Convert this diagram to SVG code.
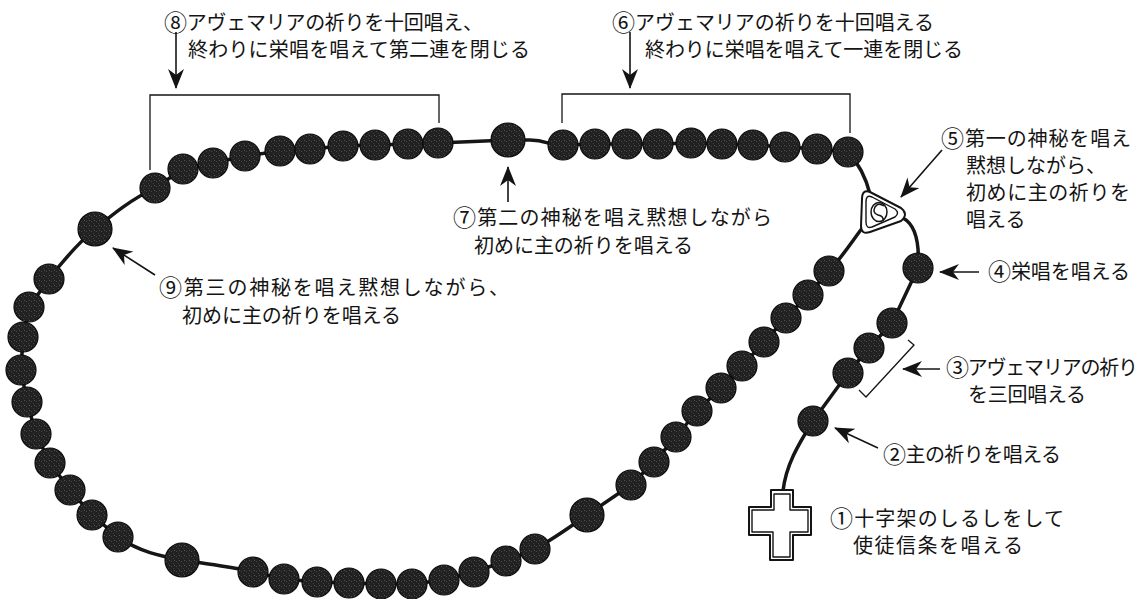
<svg xmlns="http://www.w3.org/2000/svg" width="1144" height="599" viewBox="0 0 1144 599">
<style>
text{font-family:"Noto Sans CJK JP","Noto Sans CJK SC",sans-serif;font-size:20px;fill:#141414}
.n{font-size:23px}
.cord{fill:none;stroke:#161616;stroke-width:3.5;stroke-linejoin:round;stroke-linecap:round}
.b{fill:url(#sp);stroke:#0b0b0b;stroke-width:1.2}
.arr{fill:none;stroke:#141414;stroke-width:1.6;marker-end:url(#ah)}
.brk{fill:none;stroke:#141414;stroke-width:1.3}
.ol{fill:#fff;stroke:#141414;stroke-width:2;stroke-linejoin:round}
.il{fill:none;stroke:#141414;stroke-width:1.4;stroke-linejoin:round}
</style>
<defs>
<pattern id="sp" width="5" height="5" patternUnits="userSpaceOnUse">
<rect width="5" height="5" fill="#212121"/>
<rect x="1" y="1" width="1" height="1" fill="#4a4a4a"/>
<rect x="3" y="3" width="1" height="1" fill="#3d3d3d"/>
<rect x="4" y="0" width="1" height="1" fill="#555"/>
</pattern>
<marker id="ah" viewBox="0 0 20 16" refX="19" refY="8" markerWidth="20" markerHeight="16" markerUnits="userSpaceOnUse" orient="auto">
<path d="M0,0 L20,8 L0,16 L6,8 Z" fill="#141414"/>
</marker>
</defs>
<rect width="1144" height="599" fill="#fff"/>

<g id="connectors">
<path class="cord" d="M870,194 C866,178 860,165 848,152 L817,149 L785,147 L753,145 L722,144 L691,143 L658,144 L627,144 L595,144 L563,145 C548,146 548,140 530,140 L508,140 L438,143 L408,144 L375,145 L343,146 L310,149 L280,151 L245,156 L213,163 L183,169 L155,188 C130,200 112,215 95,229 C75,246 62,262 49,279 L29,307 L23,337 L21,370 L27,402 L36,434 L50,463 L70,490 L92,515 L118,537 C140,552 160,556 182,560 C205,564 230,566 253,572 L284,579 L317,582 L349,583 L381,584 L412,584 L444,580 L474,572 L506,561 L535,549 C555,538 570,527 587,515 L631,485 L654,462 L676,437 L697,411 L721,388 L742,366 L764,342 L786,318 L808,295 L829,271 C843,256 853,240 863,227"/>
<path class="cord" d="M903,218 C914,224 920,238 918,268 L892,323 L869,348 L848,373 L813,421 C798,445 786,465 783,491"/>
<path class="arr" d="M176,32 V88"/>
<path class="arr" d="M630,32 V88"/>
<path class="arr" d="M508,202 V167"/>
<path class="arr" d="M155,275 L113,248"/>
<path class="arr" d="M942,150 L901,197"/>
<path class="arr" d="M979,272 H940"/>
<path class="arr" d="M940,369 H903"/>
<path class="arr" d="M878,448 L835,428"/>
<path class="brk" d="M150,170 V95 H439 V123"/>
<path class="brk" d="M562,123 V94 H850 V133"/>
<path class="brk" d="M908,340 L914,345 L866,397 L859,390"/>
</g>

<g id="decade1">
<circle class="b" cx="563" cy="145" r="15"/><circle class="b" cx="595" cy="144" r="15"/><circle class="b" cx="627" cy="144" r="15"/><circle class="b" cx="658" cy="144" r="15"/><circle class="b" cx="691" cy="143" r="15"/><circle class="b" cx="722" cy="144" r="15"/><circle class="b" cx="753" cy="145" r="15"/><circle class="b" cx="785" cy="147" r="15"/><circle class="b" cx="817" cy="149" r="15"/><circle class="b" cx="848" cy="152" r="15"/>
</g>
<g id="decade2">
<circle class="b" cx="155" cy="188" r="15"/><circle class="b" cx="183" cy="169" r="15"/><circle class="b" cx="213" cy="163" r="15"/><circle class="b" cx="245" cy="156" r="15"/><circle class="b" cx="280" cy="151" r="15"/><circle class="b" cx="310" cy="149" r="15"/><circle class="b" cx="343" cy="146" r="15"/><circle class="b" cx="375" cy="145" r="15"/><circle class="b" cx="408" cy="144" r="15"/><circle class="b" cx="438" cy="143" r="15"/>
</g>
<g id="decade3">
<circle class="b" cx="49" cy="279" r="15"/><circle class="b" cx="29" cy="307" r="15"/><circle class="b" cx="23" cy="337" r="15"/><circle class="b" cx="21" cy="370" r="15"/><circle class="b" cx="27" cy="402" r="15"/><circle class="b" cx="36" cy="434" r="15"/><circle class="b" cx="50" cy="463" r="15"/><circle class="b" cx="70" cy="490" r="15"/><circle class="b" cx="92" cy="515" r="15"/><circle class="b" cx="118" cy="537" r="15"/>
</g>
<g id="decade4">
<circle class="b" cx="253" cy="572" r="15"/><circle class="b" cx="284" cy="579" r="15"/><circle class="b" cx="317" cy="582" r="15"/><circle class="b" cx="349" cy="583" r="15"/><circle class="b" cx="381" cy="584" r="15"/><circle class="b" cx="412" cy="584" r="15"/><circle class="b" cx="444" cy="580" r="15"/><circle class="b" cx="474" cy="572" r="15"/><circle class="b" cx="506" cy="561" r="15"/><circle class="b" cx="535" cy="549" r="15"/>
</g>
<g id="decade5">
<circle class="b" cx="631" cy="485" r="15"/><circle class="b" cx="654" cy="462" r="15"/><circle class="b" cx="676" cy="437" r="15"/><circle class="b" cx="697" cy="411" r="15"/><circle class="b" cx="721" cy="388" r="15"/><circle class="b" cx="742" cy="366" r="15"/><circle class="b" cx="764" cy="342" r="15"/><circle class="b" cx="786" cy="318" r="15"/><circle class="b" cx="808" cy="295" r="15"/><circle class="b" cx="829" cy="271" r="15"/>
</g>
<g id="large-beads">
<circle class="b" cx="508" cy="140" r="17"/>
<circle class="b" cx="95" cy="229" r="17"/>
<circle class="b" cx="182" cy="560" r="17"/>
<circle class="b" cx="587" cy="515" r="17"/>
</g>
<g id="tail-beads">
<circle class="b" cx="918" cy="268" r="15"/>
<circle class="b" cx="892" cy="323" r="15"/>
<circle class="b" cx="869" cy="348" r="15"/>
<circle class="b" cx="848" cy="373" r="15"/>
<circle class="b" cx="813" cy="421" r="15"/>
</g>
<g id="medal">
<path class="ol" d="M870,192 L901,208 Q909,214 901,221 L870,232 Q861,235 861,226 L862,199 Q862,189 870,192 Z"/>
<path class="il" d="M872,197 L895,209 Q900,213 895,217 L872,227 Q866,229 866,222 L866,202 Q866,194 872,197 Z"/>
<ellipse cx="879" cy="212" rx="8" ry="9.5" fill="none" stroke="#141414" stroke-width="1.5"/>
<path d="M884,206 Q878,202 875,207 Q872,213 878,215 Q884,216 883,221" fill="none" stroke="#141414" stroke-width="1.5"/>
</g>
<g id="cross">
<path class="ol" d="M771,490 H793 V507 H811 V535 H793 V560 H770 V535 H749 V507 H771 Z"/>
<path class="il" d="M774,494 H790 V510 H808 V532 H790 V557 H773 V532 H752 V510 H774 Z"/>
</g>

<g id="label8">
<text x="164" y="30" textLength="319"><tspan class="n" dy="1">⑧</tspan><tspan dy="-1">アヴェマリアの祈りを十回唱え、</tspan></text>
<text x="188" y="57" textLength="342">終わりに栄唱を唱えて第二連を閉じる</text>
</g>
<g id="label6">
<text x="612" y="30" textLength="322"><tspan class="n" dy="1">⑥</tspan><tspan dy="-1">アヴェマリアの祈りを十回唱える</tspan></text>
<text x="645" y="57" textLength="318">終わりに栄唱を唱えて一連を閉じる</text>
</g>
<g id="label7">
<text x="453" y="225" textLength="319"><tspan class="n" dy="1">⑦</tspan><tspan dy="-1">第二の神秘を唱え黙想しながら</tspan></text>
<text x="474" y="253" textLength="219">初めに主の祈りを唱える</text>
</g>
<g id="label9">
<text x="159" y="295" textLength="350"><tspan class="n" dy="1">⑨</tspan><tspan dy="-1">第三の神秘を唱え黙想しながら、</tspan></text>
<text x="182" y="323" textLength="219">初めに主の祈りを唱える</text>
</g>
<g id="label5">
<text x="941" y="146" textLength="190"><tspan class="n" dy="1">⑤</tspan><tspan dy="-1">第一の神秘を唱え</tspan></text>
<text x="966" y="173">黙想しながら、</text>
<text x="966" y="200" textLength="164">初めに主の祈りを</text>
<text x="966" y="227">唱える</text>
</g>
<g id="label4">
<text x="988" y="279" textLength="142"><tspan class="n" dy="1">④</tspan><tspan dy="-1">栄唱を唱える</tspan></text>
</g>
<g id="label3">
<text x="946" y="375" textLength="192"><tspan class="n" dy="1">③</tspan><tspan dy="-1">アヴェマリアの祈り</tspan></text>
<text x="968" y="402" textLength="118">を三回唱える</text>
</g>
<g id="label2">
<text x="883" y="462" textLength="178"><tspan class="n" dy="1">②</tspan><tspan dy="-1">主の祈りを唱える</tspan></text>
</g>
<g id="label1">
<text x="830" y="526" textLength="234"><tspan class="n" dy="1">①</tspan><tspan dy="-1">十字架のしるしをして</tspan></text>
<text x="853" y="553" textLength="170">使徒信条を唱える</text>
</g>
</svg>
